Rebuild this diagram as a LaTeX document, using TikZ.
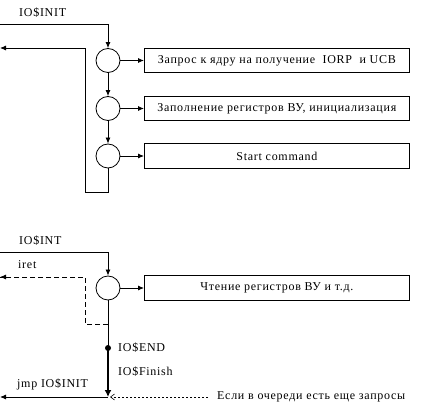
\documentclass[tikz,border=0pt]{standalone}
\usepackage{fontspec}
\setmainfont{Liberation Serif}[LetterSpace=6]
\usetikzlibrary{arrows.meta}
\begin{document}
\begin{tikzpicture}[x=1pt,y=-1pt,
  every node/.style={font=\fontsize{12}{14}\selectfont, inner sep=0pt},
  line/.style={line width=0.8pt},
  arr/.style={line width=0.8pt,-{Latex[length=6pt,width=5pt]}},
  circ/.style={draw, line width=0.8pt, circle, minimum size=24pt},
  box/.style={draw, line width=0.8pt, minimum width=265pt, minimum height=24.5pt, anchor=west},
  lbl/.style={anchor=west}]
\path[use as bounding box] (0,0) rectangle (421,409);
% top part
\node[circ] (c1) at (108,60.5) {};
\node[circ] (c2) at (108,108.5) {};
\node[circ] (c3) at (108,156) {};
\node[box] (b1) at (144,60.5) {Запрос к ядру на получение \ IORP \ и UCB};
\node[box] (b2) at (144,108.5) {Заполнение регистров ВУ, инициализация};
\node[box] (b3) at (144,156) {Start command};
\node[lbl] (linit) at (19,13) {IO\$INIT};
\coordinate (s1) at (0,24);
\coordinate (o1) at (0,48);
\draw[arr] (s1) -| (c1.north);
\draw[arr] (c1.south) -- (c2.north);
\draw[arr] (c2.south) -- (c3.north);
\draw[arr] (c1.east) -- (b1.west);
\draw[arr] (c2.east) -- (b2.west);
\draw[arr] (c3.east) -- (b3.west);
\draw[arr] (c3.south) -- (108,192) -- (85,192) -- (85,48) -- (o1);
% bottom part
\node[circ] (c4) at (108,288) {};
\node[box] (b4) at (144,288) {Чтение регистров ВУ и т.д.};
\node[lbl] (lint) at (19,241) {IO\$INT};
\node[lbl] (liret) at (18,265) {iret};
\node[lbl] (lend) at (118,348) {IO\$END};
\node[lbl] (lfin) at (118,372) {IO\$Finish};
\node[lbl] (ljmp) at (17,384) {jmp IO\$INIT};
\node[lbl] (lq) at (217,397) {Если в очереди есть еще запросы};
\coordinate (s2) at (0,252.5);
\coordinate (o2) at (0,277);
\coordinate (jn) at (108,324);
\coordinate (dot) at (108,348);
\coordinate (m) at (108,397);
\coordinate (o3) at (0,397);
\coordinate (q) at (208,397);
\draw[arr] (s2) -| (c4.north);
\draw[arr] (c4.east) -- (b4.west);
\draw[line] (c4.south) -- (dot);
\draw[line, dash pattern=on 5pt off 3pt] (jn) -- (85,324) -- (85,277) -- (o2);
\draw[line, -{Latex[length=6pt,width=5pt]}] (5,277) -- (o2);
\fill (dot) circle (3pt);
\draw[line width=2.8pt, -{Latex[length=7pt,width=7pt]}] (dot) -- (m);
\draw[arr] (m) -- (o3);
\draw[line width=0.6pt, dash pattern=on 2.5pt off 1.5pt, -{Straight Barb[length=4pt,width=6pt]}] (q) -- (110,397);
\end{tikzpicture}
\end{document}
